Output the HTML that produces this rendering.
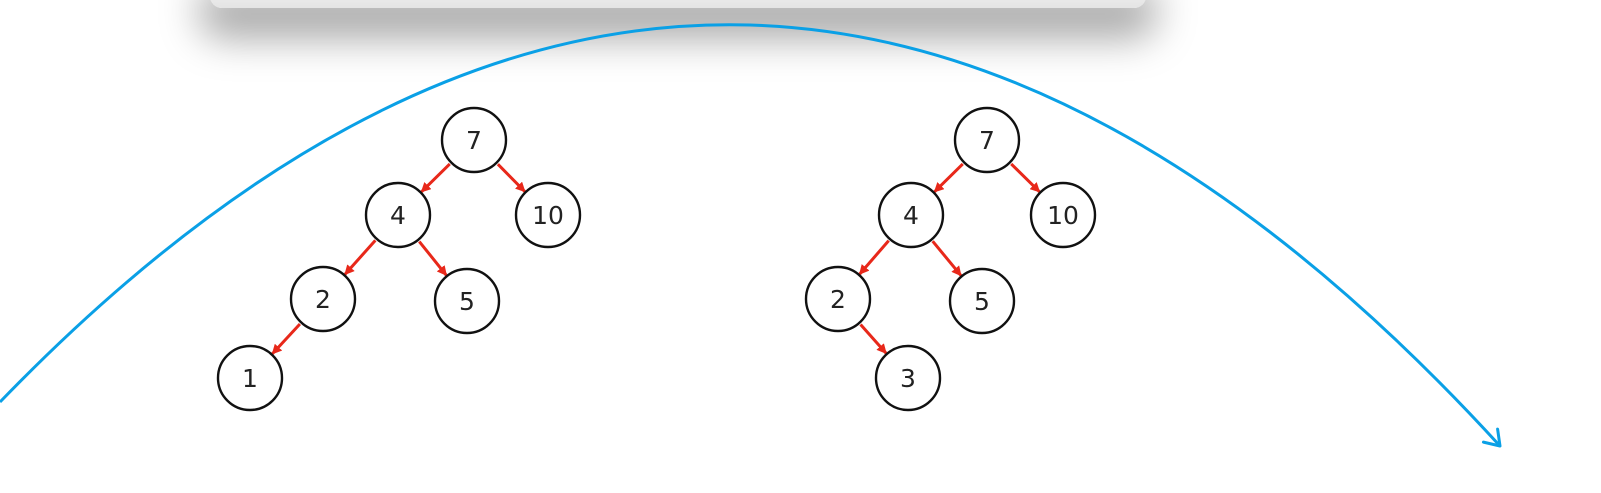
<!DOCTYPE html>
<html><head><meta charset="utf-8"><style>
html,body{margin:0;padding:0;background:#fff;width:1601px;height:493px;overflow:hidden}
#panel{position:absolute;left:210px;top:-20px;width:936px;height:28px;border-radius:0 0 12px 12px;background:linear-gradient(#f4f4f4,#e4e4e4);box-shadow:0 20px 40px 10px rgba(0,0,0,0.35)}
svg{position:absolute;left:0;top:0}
</style></head><body>
<div id="panel"></div>
<svg id="s" width="1601" height="493">
<defs>
<marker id="ra" markerWidth="10" markerHeight="10" refX="9" refY="5" orient="auto" markerUnits="userSpaceOnUse"><path d="M0,0 L10,5 L0,10 Z" fill="#e8281a"/></marker>
</defs>
<path d="M0,402 Q750,-374 1500,446" fill="none" stroke="#0aa0e6" stroke-width="3"/>
<path id="ah" d="" fill="none" stroke="#0aa0e6" stroke-width="3" stroke-linecap="round" stroke-linejoin="round"/>
</svg>
<script>
const labels1=["7","4","10","2","5","1"];
const xs1=[474,398,548,323,467,250];
const ys1=[140,215,215,299,301,378];
const edges1=[[0,1],[0,2],[1,3],[1,4],[3,5]];
const labels2=["7","4","10","2","5","3"];
const xs2=[987,911,1063,838,982,908];
const ys2=[140,215,215,299,301,378];
const edges2=[[0,1],[0,2],[1,3],[1,4],[3,5]];
const R=32,NS="http://www.w3.org/2000/svg",s=document.getElementById('s');
(function(){
  const tx=1500,ty=446,dx=1500-750,dy=446+374,d=Math.hypot(dx,dy),bx=-dx/d,by=-dy/d,L=17,a=0.6;
  const p1=[tx+L*(bx*Math.cos(a)-by*Math.sin(a)),ty+L*(bx*Math.sin(a)+by*Math.cos(a))];
  const p2=[tx+L*(bx*Math.cos(-a)-by*Math.sin(-a)),ty+L*(bx*Math.sin(-a)+by*Math.cos(-a))];
  document.getElementById('ah').setAttribute('d',`M${p1[0]},${p1[1]} L${tx},${ty} L${p2[0]},${p2[1]}`);
})();
function draw(lab,xs,ys,edges){
  edges.forEach(([a,b])=>{
    const dx=xs[b]-xs[a],dy=ys[b]-ys[a],d=Math.hypot(dx,dy),ux=dx/d,uy=dy/d;
    const l=document.createElementNS(NS,'line');
    l.setAttribute('x1',xs[a]+ux*(R+2));l.setAttribute('y1',ys[a]+uy*(R+2));
    l.setAttribute('x2',xs[b]-ux*(R+1));l.setAttribute('y2',ys[b]-uy*(R+1));
    l.setAttribute('stroke','#e8281a');l.setAttribute('stroke-width','3');l.setAttribute('marker-end','url(#ra)');
    
    
    s.appendChild(l);
  });
  lab.forEach((t,i)=>{
    const c=document.createElementNS(NS,'circle');
    c.setAttribute('cx',xs[i]);c.setAttribute('cy',ys[i]);c.setAttribute('r',R);
    c.setAttribute('fill','#fff');c.setAttribute('stroke','#111');c.setAttribute('stroke-width','2.4');
    
    
    s.appendChild(c);
    const tx=document.createElementNS(NS,'text');
    tx.setAttribute('x',xs[i]);tx.setAttribute('y',ys[i]+9);tx.setAttribute('text-anchor','middle');
    tx.setAttribute('font-family','"DejaVu Sans","Liberation Sans",sans-serif');tx.setAttribute('font-size','25');tx.setAttribute('fill','#222');
    tx.textContent=t;
    
    
    s.appendChild(tx);
  });
}
draw(labels1,xs1,ys1,edges1);
draw(labels2,xs2,ys2,edges2);
</script>
</body></html>
